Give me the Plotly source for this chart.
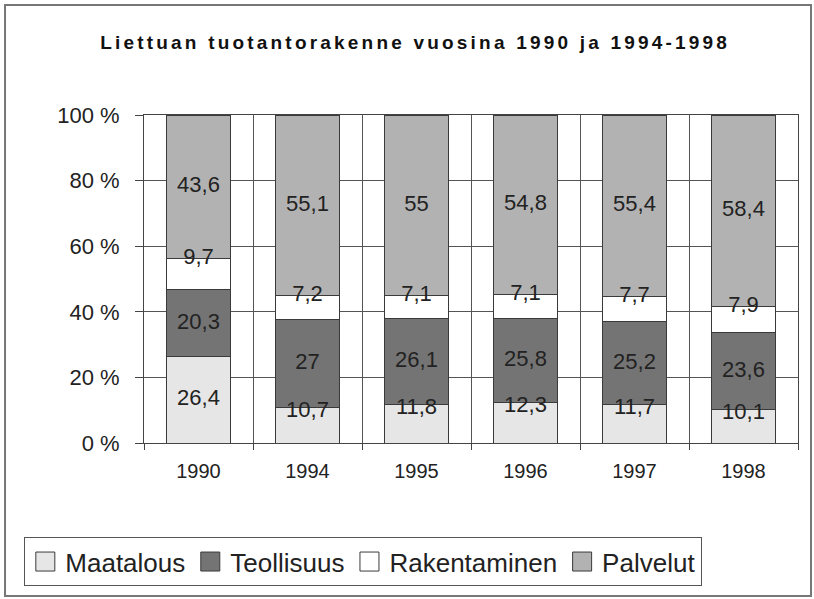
import plotly.graph_objects as go

years = ["1990", "1994", "1995", "1996", "1997", "1998"]
maatalous = [26.4, 10.7, 11.8, 12.3, 11.7, 10.1]
teollisuus = [20.3, 27, 26.1, 25.8, 25.2, 23.6]
rakentaminen = [9.7, 7.2, 7.1, 7.1, 7.7, 7.9]
palvelut = [43.6, 55.1, 55, 54.8, 55.4, 58.4]

series = [
    ("Maatalous", maatalous, "#e6e6e6"),
    ("Teollisuus", teollisuus, "#747474"),
    ("Rakentaminen", rakentaminen, "#ffffff"),
    ("Palvelut", palvelut, "#b2b2b2"),
]

fig = go.Figure()

bottoms = [0.0] * len(years)
lab_x, lab_y, lab_t = [], [], []
for k, (name, vals, col) in enumerate(series):
    fig.add_trace(go.Bar(
        x=years, y=vals, name=name, marker_color=col,
        marker_line_color="#3a3a3a", marker_line_width=1,
        hoverinfo="skip",
    ))
    for i, v in enumerate(vals):
        top = bottoms[i] + v
        # small segments: excel pushes the label towards the top edge
        if v < 13 and k == 0:
            y = top - 1.2
        elif v < 13:
            y = top
        else:
            y = bottoms[i] + v / 2
        lab_x.append(years[i])
        lab_y.append(y)
        lab_t.append(str(v).replace(".", ","))
        bottoms[i] = top

fig.add_trace(go.Scatter(
    x=lab_x, y=lab_y, text=lab_t, mode="text", showlegend=False,
    textfont=dict(family="Liberation Sans, Arial", size=22, color="#222"),
    hoverinfo="skip",
))

fig.update_layout(
    barmode="stack",
    bargap=0.42,
    width=814, height=599,
    margin=dict(l=144, r=16, t=115, b=156),
    paper_bgcolor="white", plot_bgcolor="white",
    title=dict(text="<b>Liettuan tuotantorakenne vuosina 1990 ja 1994-1998</b>",
               x=0.51, xanchor="center", y=0.93, yanchor="middle",
               font=dict(family="Liberation Sans, Arial", size=19, color="#111")),
    font=dict(family="Liberation Sans, Arial", size=20, color="#222"),
    legend=dict(orientation="h", x=-0.183, y=-0.287, xanchor="left", yanchor="top",
                bordercolor="#555", borderwidth=1, traceorder="normal",
                font=dict(family="Liberation Sans, Arial", size=26, color="#222"),
                itemwidth=30),
    shapes=[dict(type="rect", xref="paper", yref="paper",
                 x0=-0.2125, x1=1.0199, y0=-0.4665, y1=1.3354,
                 line=dict(color="#777", width=2), layer="below")],
)
fig.update_xaxes(type="category", tickson="boundaries", ticks="outside", ticklen=6,
                 tickcolor="#444", showgrid=True, gridcolor="#555", gridwidth=1,
                 showline=True, linecolor="#444", mirror=True, ticklabelstandoff=10,
                 tickfont=dict(size=20), fixedrange=True)
fig.update_yaxes(range=[0, 100], dtick=20, ticksuffix=" %", ticks="outside", ticklen=8,
                 tickcolor="#444", showgrid=True, gridcolor="#555", gridwidth=1,
                 showline=True, linecolor="#444", mirror=True, zeroline=False,
                 ticklabelstandoff=11, tickfont=dict(size=22), fixedrange=True)

# page margin off, spaced-out title lettering and the bigger legend keys of the original
js = """
document.body.style.margin = '0';
function restyle() {
  var t = document.querySelector('.gtitle');
  if (t) { t.style.letterSpacing = '3.2px'; }
  document.querySelectorAll('.legendpoints path').forEach(function(p) {
    p.setAttribute('d', 'M9.5,9.5H-9.5V-9.5H9.5Z');
  });
}
restyle();
window.addEventListener('load', restyle);
"""
fig.write_html("out.html", post_script=js, config={"displayModeBar": False})
